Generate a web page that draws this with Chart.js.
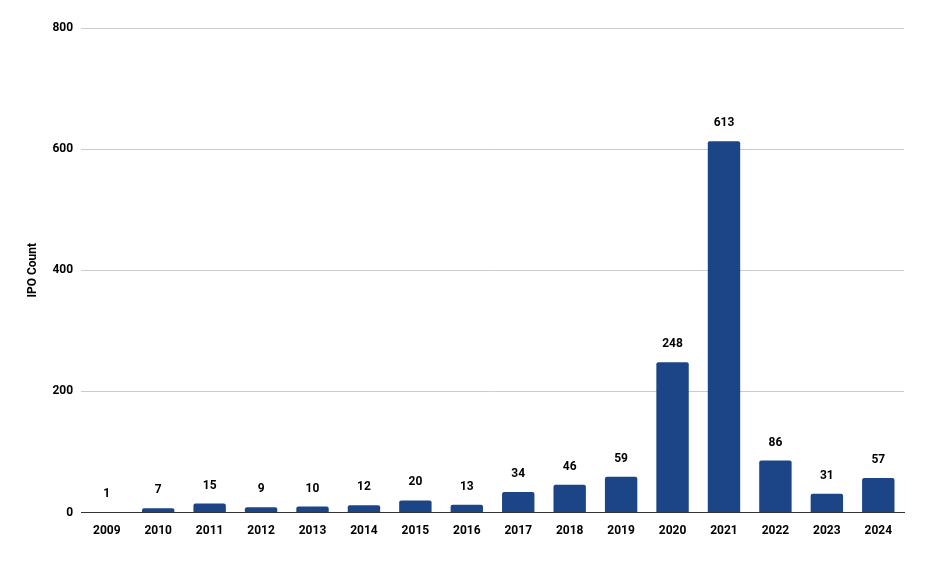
<!DOCTYPE html>
<html>
<head>
<meta charset="utf-8">
<script src="https://cdn.jsdelivr.net/npm/chart.js@4/dist/chart.umd.min.js"></script>
<style>
  html, body { margin: 0; padding: 0; background: #fff; }
  #wrap { width: 932px; height: 563px; }
</style>
</head>
<body>
<div id="wrap"><canvas id="c"></canvas></div>
<script>
const years = ['2009','2010','2011','2012','2013','2014','2015','2016','2017','2018','2019','2020','2021','2022','2023','2024'];
const ipoCounts = [1, 7, 15, 9, 10, 12, 20, 13, 34, 46, 59, 248, 613, 86, 31, 57];
const yTicks = [0, 200, 400, 600, 800];

// value labels above each bar
const barLabels = {
    id: 'barLabels',
    afterDatasetsDraw(chart) {
        const { ctx } = chart;
        const meta = chart.getDatasetMeta(0);
        ctx.save();
        ctx.font = 'bold 12px Roboto, sans-serif';
        ctx.fillStyle = '#000';
        ctx.textAlign = 'center';
        ctx.textBaseline = 'bottom';
        meta.data.forEach((bar, i) => {
            ctx.fillText(ipoCounts[i], bar.x, bar.y - 12);
        });
        ctx.restore();
    }
};

new Chart(document.getElementById('c'), {
    type: 'bar',
    data: {
        labels: years,
        datasets: [{
            data: ipoCounts,
            backgroundColor: '#1c4587',
            borderRadius: 2,
            barPercentage: 0.63,
            categoryPercentage: 1
        }]
    },
    options: {
        responsive: true,
        maintainAspectRatio: false,
        animation: false,
        layout: { padding: { left: 22, right: 28, top: 28, bottom: 22 } },
        plugins: { legend: { display: false }, tooltip: { enabled: false } },
        scales: {
            x: {
                grid: { display: false },
                border: { color: '#333' },
                ticks: { color: '#000', font: { family: 'Roboto', size: 12, weight: 'bold' } }
            },
            y: {
                min: 0, max: 800,
                afterBuildTicks(axis) { axis.ticks = yTicks.map(v => ({ value: v })); },
                grid: { color: '#ccc', drawTicks: false },
                border: { display: false },
                ticks: { padding: 8, color: '#000', font: { family: 'Roboto', size: 12, weight: 'bold' } },
                title: { display: true, text: 'IPO Count', color: '#000', font: { family: 'Roboto', size: 12, weight: 'bold' } }
            }
        }
    },
    plugins: [barLabels]
});
</script>
</body>
</html>
